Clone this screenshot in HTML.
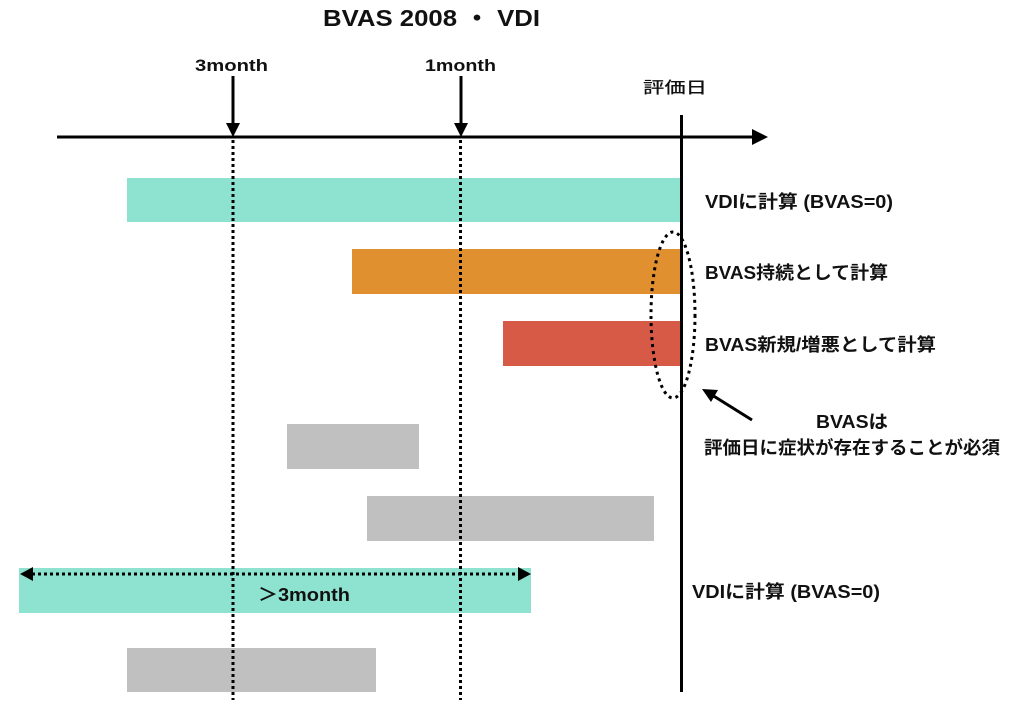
<!DOCTYPE html>
<html><head><meta charset="utf-8"><style>
html,body{margin:0;padding:0;background:#fff;}
svg{display:block;}
text{font-family:"Liberation Sans","Noto Sans CJK JP",sans-serif;font-weight:bold;fill:#111;}
</style></head><body>
<svg width="1024" height="708" viewBox="0 0 1024 708" xmlns="http://www.w3.org/2000/svg">
<text x="323" y="26" font-size="23" textLength="217" lengthAdjust="spacingAndGlyphs">BVAS 2008 ・ VDI</text>
<text x="195" y="71" font-size="17" textLength="73" lengthAdjust="spacingAndGlyphs">3month</text>
<text x="425" y="71" font-size="17" textLength="71" lengthAdjust="spacingAndGlyphs">1month</text>
<text x="643" y="93" font-size="16" textLength="64" lengthAdjust="spacingAndGlyphs" style="font-weight:500">評価日</text>
<rect x="127" y="178" width="554" height="44" fill="#8ee3d0"/>
<rect x="352" y="249" width="329" height="45" fill="#e0902e"/>
<rect x="503" y="321" width="178" height="45" fill="#d75a47"/>
<rect x="287" y="424" width="132" height="45" fill="#c0c0c0"/>
<rect x="367" y="496" width="287" height="45" fill="#c0c0c0"/>
<rect x="19" y="568" width="512" height="45" fill="#8ee3d0"/>
<rect x="127" y="648" width="249" height="44" fill="#c0c0c0"/>
<line x1="57" y1="137" x2="760" y2="137" stroke="#000" stroke-width="3"/>
<path d="M752,129 L768,137 L752,145 Z" fill="#000"/>
<line x1="681.5" y1="115" x2="681.5" y2="692" stroke="#000" stroke-width="3"/>
<line x1="233" y1="76" x2="233" y2="125" stroke="#000" stroke-width="3"/>
<path d="M226,123 L240,123 L233,137 Z" fill="#000"/>
<line x1="461" y1="76" x2="461" y2="125" stroke="#000" stroke-width="3"/>
<path d="M454,123 L468,123 L461,137 Z" fill="#000"/>
<line x1="233" y1="140" x2="233" y2="700" stroke="#000" stroke-width="3" stroke-dasharray="3,3"/>
<line x1="460.5" y1="140" x2="460.5" y2="700" stroke="#000" stroke-width="3" stroke-dasharray="3,3"/>
<ellipse cx="673" cy="315" rx="22" ry="83" fill="none" stroke="#000" stroke-width="3" stroke-dasharray="3,4"/>
<line x1="752" y1="420" x2="712" y2="395" stroke="#000" stroke-width="3"/>
<path d="M702,389 L718,390 L711,402 Z" fill="#000"/>
<line x1="32" y1="574" x2="518" y2="574" stroke="#000" stroke-width="3" stroke-dasharray="3,3"/>
<path d="M20,574 L33,567 L33,581 Z" fill="#000"/>
<path d="M531,574 L518,567 L518,581 Z" fill="#000"/>
<text x="258" y="601" font-size="18" textLength="92" lengthAdjust="spacingAndGlyphs">＞3month</text>
<text x="705" y="208" font-size="18" textLength="188" lengthAdjust="spacingAndGlyphs">VDIに計算 (BVAS=0)</text>
<text x="705" y="279" font-size="18" textLength="183" lengthAdjust="spacingAndGlyphs">BVAS持続として計算</text>
<text x="705" y="351" font-size="18" textLength="231" lengthAdjust="spacingAndGlyphs">BVAS新規/増悪として計算</text>
<text x="816" y="428" font-size="18" textLength="72" lengthAdjust="spacingAndGlyphs">BVASは</text>
<text x="704" y="454" font-size="18" textLength="296" lengthAdjust="spacingAndGlyphs">評価日に症状が存在することが必須</text>
<text x="692" y="598" font-size="18" textLength="188" lengthAdjust="spacingAndGlyphs">VDIに計算 (BVAS=0)</text>
</svg>
</body></html>
